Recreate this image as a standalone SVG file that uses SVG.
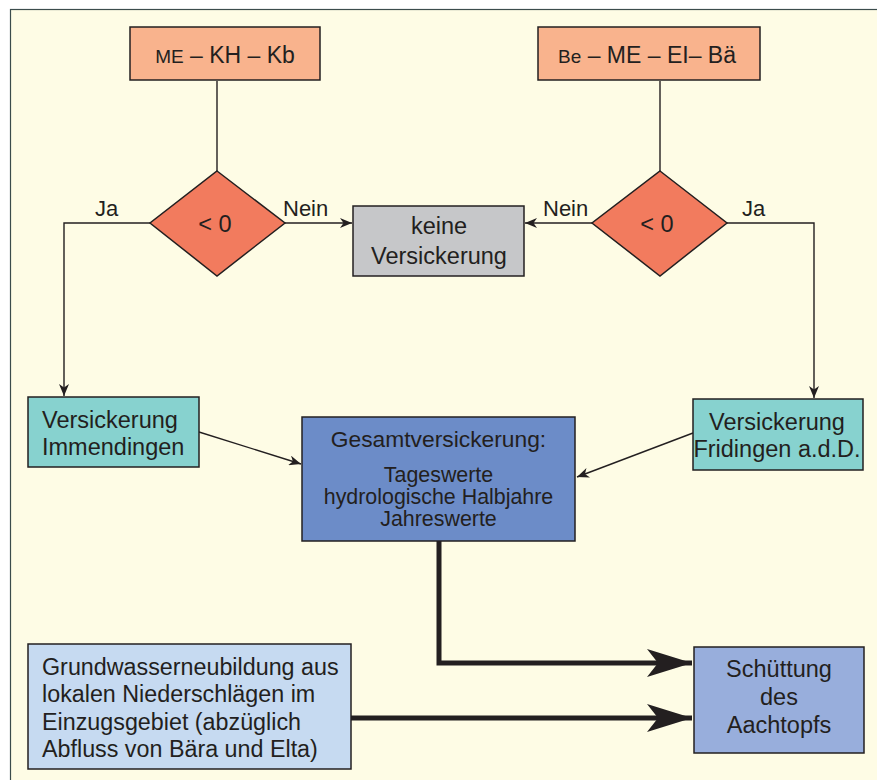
<svg xmlns="http://www.w3.org/2000/svg" width="877" height="780" viewBox="0 0 877 780">
<defs>
<style>
.box{stroke:#231f20;stroke-width:1.5}
.t{font-family:"Liberation Sans",Arial,sans-serif;fill:#231f20}
.ln{fill:none;stroke:#231f20;stroke-width:1.4}
.thick{fill:none;stroke:#231f20;stroke-width:5}
</style>
<marker id="ah" markerUnits="userSpaceOnUse" markerWidth="14" markerHeight="10" refX="12" refY="5" orient="auto" viewBox="0 0 14 10">
<path d="M0,0 L12,5 L0,10 L3.5,5 z" fill="#231f20"/>
</marker>
<marker id="big" markerUnits="userSpaceOnUse" markerWidth="46" markerHeight="30" refX="45" refY="15" orient="auto" viewBox="0 0 46 30">
<path d="M0,1 L45,15 L0,29 L11,15 z" fill="#231f20"/>
</marker>
</defs>
<rect x="0" y="0" width="877" height="780" fill="#ffffff"/>
<rect x="10.5" y="9.5" width="880" height="780" fill="#fefce5" stroke="#3b4c4c" stroke-width="1.2"/>

<g id="connectors">
<line class="ln" x1="217" y1="81" x2="217" y2="171"/>
<line class="ln" x1="660" y1="81" x2="660" y2="171"/>
<line class="ln" x1="285" y1="223" x2="352" y2="223" marker-end="url(#ah)"/>
<line class="ln" x1="592" y1="223" x2="525" y2="223" marker-end="url(#ah)"/>
<polyline class="ln" points="150,223 64,223 64,396" marker-end="url(#ah)"/>
<polyline class="ln" points="727,223 814,223 814,398" marker-end="url(#ah)"/>
<line class="ln" x1="199" y1="432" x2="301" y2="464" marker-end="url(#ah)"/>
<line class="ln" x1="693" y1="433" x2="577" y2="477" marker-end="url(#ah)"/>
<polyline class="thick" points="439,541 439,663 692,663" marker-end="url(#big)"/>
<line class="thick" x1="351" y1="718" x2="692" y2="718" marker-end="url(#big)"/>
<text class="t" x="95" y="216" font-size="22">Ja</text>
<text class="t" x="283" y="216" font-size="22">Nein</text>
<text class="t" x="543" y="216" font-size="22">Nein</text>
<text class="t" x="742" y="216" font-size="22">Ja</text>
</g>

<g id="n1">
<rect class="box" x="130" y="27" width="190" height="53" fill="#f9b38d"/>
<text class="t" x="225" y="63" font-size="23" text-anchor="middle"><tspan font-size="19">ME</tspan> – KH – Kb</text>
</g>
<g id="n2">
<rect class="box" x="538" y="27" width="222" height="53" fill="#f9b38d"/>
<text class="t" x="647" y="63" font-size="23" text-anchor="middle"><tspan font-size="19">Be</tspan> – ME – EI– Bä</text>
</g>
<g id="d1">
<polygon class="box" points="217,171 285,223 217,276 150,223" fill="#f27b5e"/>
<text class="t" x="215" y="232" font-size="23.5" text-anchor="middle">&lt; 0</text>
</g>
<g id="d2">
<polygon class="box" points="660,171 727,223 660,276 592,223" fill="#f27b5e"/>
<text class="t" x="657" y="232" font-size="23.5" text-anchor="middle">&lt; 0</text>
</g>
<g id="n3">
<rect class="box" x="353" y="206" width="171" height="70" fill="#c6c7c9"/>
<text class="t" x="439" y="234" font-size="23.5" text-anchor="middle">keine</text>
<text class="t" x="439" y="264" font-size="23.5" text-anchor="middle">Versickerung</text>
</g>
<g id="n4">
<rect class="box" x="28" y="397" width="171" height="70" fill="#87d2cf"/>
<text class="t" x="42" y="428" font-size="23.5">Versickerung</text>
<text class="t" x="42" y="455" font-size="23.5">Immendingen</text>
</g>
<g id="n5">
<rect class="box" x="693" y="399" width="170" height="71" fill="#87d2cf"/>
<text class="t" x="777" y="430" font-size="23.5" text-anchor="middle">Versickerung</text>
<text class="t" x="777" y="457" font-size="23.5" text-anchor="middle">Fridingen a.d.D.</text>
</g>
<g id="n6">
<rect class="box" x="302" y="417" width="273" height="124" fill="#6c8cc8"/>
<text class="t" x="438.5" y="447" font-size="22.8" text-anchor="middle">Gesamtversickerung:</text>
<text class="t" x="438.5" y="482" font-size="21.4" text-anchor="middle">Tageswerte</text>
<text class="t" x="438.5" y="504" font-size="21.4" text-anchor="middle">hydrologische Halbjahre</text>
<text class="t" x="438.5" y="526" font-size="21.4" text-anchor="middle">Jahreswerte</text>
</g>
<g id="n7">
<rect class="box" x="28" y="644" width="323" height="125" fill="#c6daf1"/>
<text class="t" x="42" y="675" font-size="23.3">Grundwasserneubildung aus</text>
<text class="t" x="42" y="702" font-size="23.3">lokalen Niederschlägen im</text>
<text class="t" x="42" y="730" font-size="23.3">Einzugsgebiet (abzüglich</text>
<text class="t" x="42" y="757" font-size="23.3">Abfluss von Bära und Elta)</text>
</g>
<g id="n8">
<rect class="box" x="694" y="647" width="170" height="106" fill="#98aedc"/>
<text class="t" x="779" y="677" font-size="23.5" text-anchor="middle">Schüttung</text>
<text class="t" x="779" y="705" font-size="23.5" text-anchor="middle">des</text>
<text class="t" x="779" y="733" font-size="23.5" text-anchor="middle">Aachtopfs</text>
</g>
</svg>
